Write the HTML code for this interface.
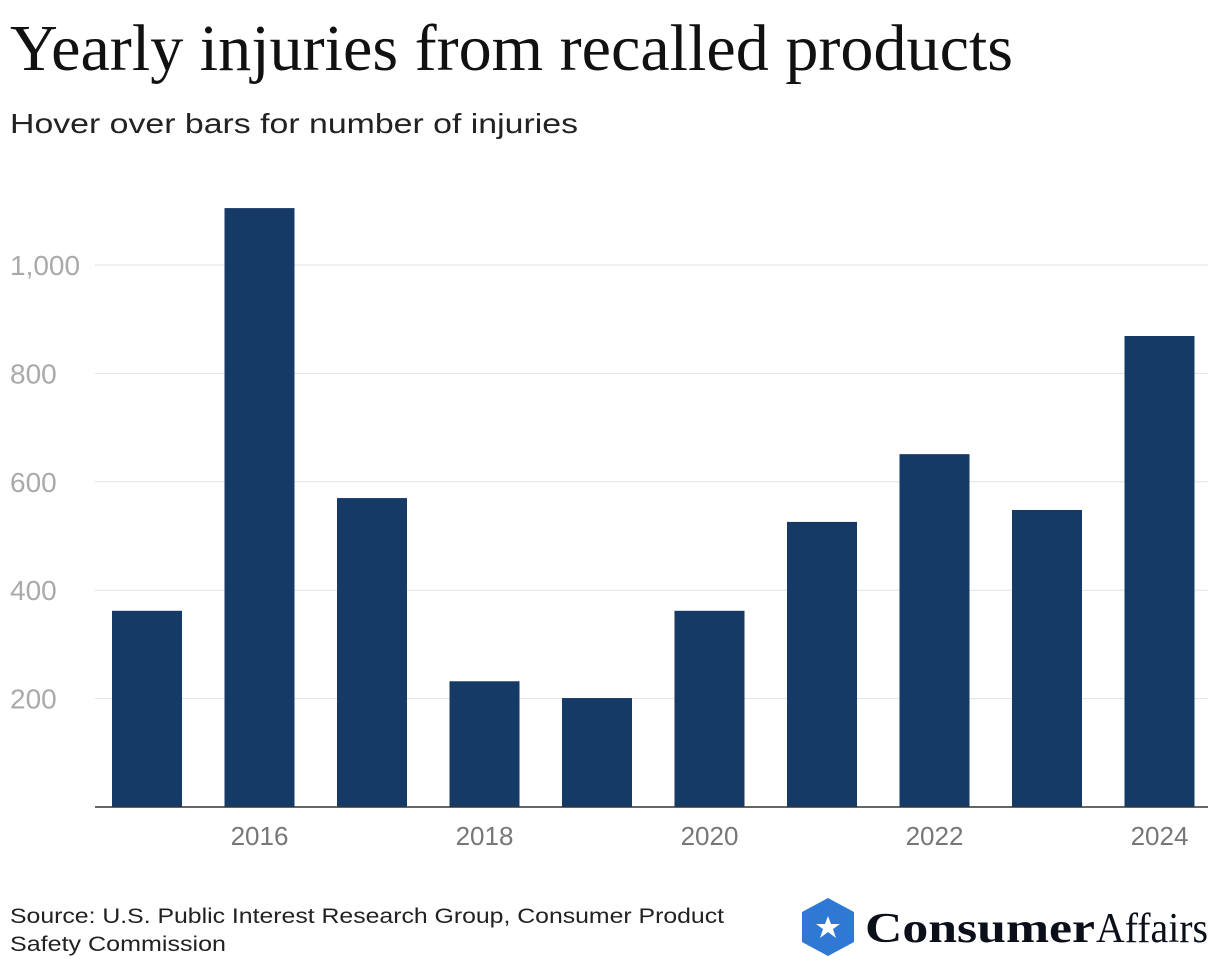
<!DOCTYPE html>
<html><head><meta charset="utf-8"><style>
body{margin:0;background:#fff;width:1220px;height:968px;overflow:hidden;position:relative;font-family:"Liberation Sans",sans-serif}
#logo{position:absolute;left:800px;top:896px}
</style></head><body>
<svg id="chart" width="1220" height="968" style="position:absolute;left:0;top:0">
<text x="10" y="70" style="font-family:'Liberation Serif',serif;font-size:66px" fill="#111" textLength="1003" lengthAdjust="spacingAndGlyphs">Yearly injuries from recalled products</text>
<text x="10" y="133" style="font-family:'Liberation Sans',sans-serif;font-size:28px" fill="#222" textLength="568" lengthAdjust="spacingAndGlyphs">Hover over bars for number of injuries</text>
<text x="10" y="923" style="font-family:'Liberation Sans',sans-serif;font-size:21px" fill="#222" textLength="714" lengthAdjust="spacingAndGlyphs">Source: U.S. Public Interest Research Group, Consumer Product</text>
<text x="10" y="951" style="font-family:'Liberation Sans',sans-serif;font-size:21px" fill="#222" textLength="216" lengthAdjust="spacingAndGlyphs">Safety Commission</text>
</svg>
<div id="logo">
<svg width="420" height="64">
<polygon points="28,2 54,16 54,46 28,60 2,46 2,16" fill="#2f78d3"/>
<polygon points="28,20 31,28 40,28 33,33 36,42 28,36 20,42 23,33 16,28 25,28" fill="#fff"/>
<text x="65" y="46" style="font-family:'Liberation Serif',serif;font-weight:bold;font-size:42px" fill="#0b0f1a" textLength="230" lengthAdjust="spacingAndGlyphs">Consumer</text>
<text x="296" y="46" style="font-family:'Liberation Serif',serif;font-size:42px" fill="#0b0f1a" textLength="112" lengthAdjust="spacingAndGlyphs">Affairs</text>
</svg></div>
<script>
const years=[2015,2016,2017,2018,2019,2020,2021,2022,2023,2024];
const injuries=[362,1105,570,232,201,362,526,651,548,869];
const yTicks=[200,400,600,800,1000];
const xTickYears=[2016,2018,2020,2022,2024];
const svg=document.getElementById('chart');
const NS='http://www.w3.org/2000/svg';
const y0=807,pxPer=0.542,left=95,right=1208,x0=147,step=112.5,bw=70;
const y=v=>y0-v*pxPer;
const x=yr=>x0+(yr-years[0])*step;
function mk(t,a){const e=document.createElementNS(NS,t);for(const k in a)e.setAttribute(k,a[k]);svg.appendChild(e);return e;}
yTicks.forEach(v=>{
 const g=mk('line',{x1:left,x2:right,y1:y(v),y2:y(v),stroke:'#e2e2e2','stroke-width':1});
 
 
 const t=mk('text',{x:10,y:y(v)+10,'font-size':28,fill:'#aaa','font-family':'Liberation Sans, sans-serif'});
 t.textContent=v.toLocaleString('en-US');
 
 
});
years.forEach((yr,i)=>{
 const r=mk('rect',{x:x(yr)-bw/2,y:y(injuries[i]),width:bw,height:injuries[i]*pxPer,fill:'#163a66'});
 
 
});
const ax=mk('line',{x1:left,x2:right,y1:y0,y2:y0,stroke:'#333','stroke-width':1.5});


xTickYears.forEach(yr=>{
 const t=mk('text',{x:x(yr),y:845,'font-size':26,fill:'#777','text-anchor':'middle','font-family':'Liberation Sans, sans-serif'});
 t.textContent=yr;
 
 
});
</script>
</body></html>
